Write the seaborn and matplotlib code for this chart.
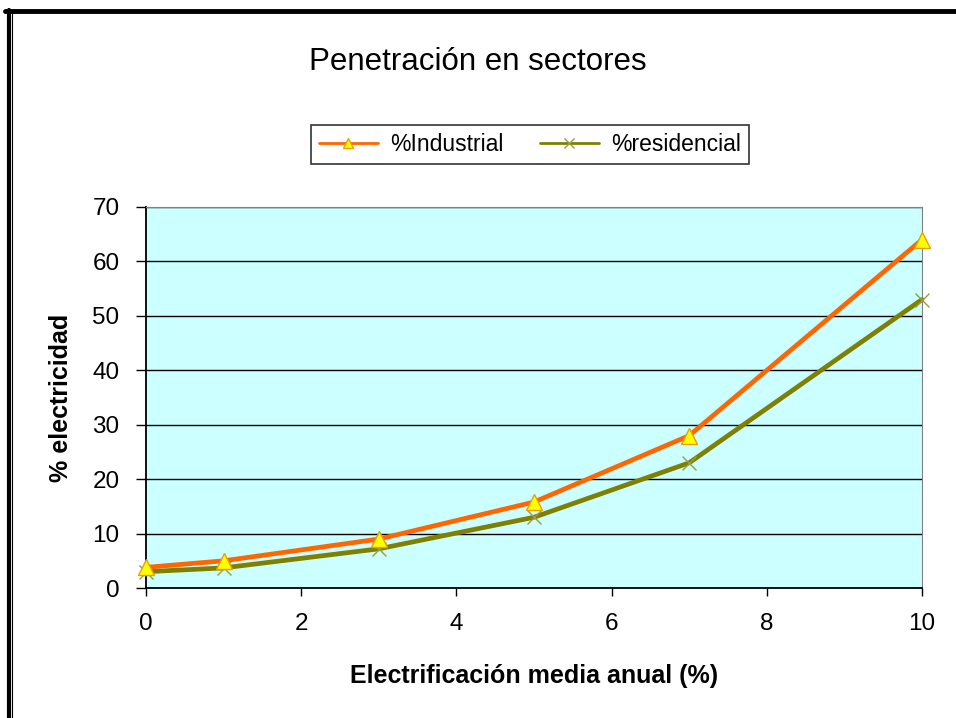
import matplotlib
matplotlib.use("Agg")
import matplotlib.pyplot as plt
from matplotlib.lines import Line2D
import pandas as pd
import seaborn as sns

# valores
electrificacion = [0, 1, 3, 5, 7, 10]
industrial = [3.8, 5.0, 9.0, 15.8, 28.0, 64.0]
residencial = [3.0, 3.7, 7.2, 13.0, 23.0, 53.0]
y_ticks = [0, 10, 20, 30, 40, 50, 60, 70]
x_ticks = [0, 2, 4, 6, 8, 10]

df = pd.DataFrame({"x": electrificacion, "ind": industrial, "res": residencial})

sns.set_style("white")
plt.rcParams['font.family'] = ['Liberation Sans', 'DejaVu Sans']
for k in ["text.color", "axes.labelcolor", "xtick.color", "ytick.color"]:
    plt.rcParams[k] = "black"

fig = plt.figure(figsize=(9.56, 7.18), dpi=100)
ax = fig.add_axes([0.1527, 0.181, 0.8117, 0.5307])
ax.set_facecolor("#CCFFFF")

sns.lineplot(data=df, x="x", y="ind", ax=ax, color="#FF6600", lw=3.4,
             marker="^", markersize=11, markerfacecolor="#FFFF00",
             markeredgecolor="#E8A000", markeredgewidth=1, label="%Industrial",
             clip_on=False, zorder=4)
sns.lineplot(data=df, x="x", y="res", ax=ax, color="#808000", lw=3.4,
             marker="x", markersize=10, markeredgecolor="#9C9C40",
             markeredgewidth=1, label="%residencial", clip_on=False, zorder=3)

ax.set_xlim(0, 10)
ax.set_ylim(0, 70)
ax.set_xticks(x_ticks)
ax.set_yticks(y_ticks)
ax.yaxis.grid(True, color="black", lw=1)
ax.set_axisbelow(True)
for s in ["top", "right"]:
    ax.spines[s].set_color("#808080")
for s in ["left", "bottom"]:
    ax.spines[s].set_color("black")
    ax.spines[s].set_linewidth(1.3)
ax.tick_params(axis="y", direction="out", length=7, width=1, pad=12, labelsize=17.5, left=True)
ax.tick_params(axis="x", direction="out", length=6, width=1, pad=12, labelsize=17.5, bottom=True)

ax.set_xlabel("Electrificación media anual (%)", fontsize=18, fontweight="bold", labelpad=21)
ax.set_ylabel("% electricidad", fontsize=18, fontweight="bold", labelpad=14)
fig.text(0.5, 0.913, "Penetración en sectores", ha="center", va="center", fontsize=22.5)

leg = ax.legend(loc="center", bbox_to_anchor=(0.554, 0.7994), bbox_transform=fig.transFigure,
                ncol=2, frameon=True, fancybox=False, fontsize=16.5, handlelength=2.6,
                handletextpad=0.5, columnspacing=1.6, borderpad=0.35, edgecolor="black",
                markerscale=0.65)
leg.get_frame().set_linewidth(1.2)
for h in leg.legend_handles:
    h.set_linewidth(2)

# marco exterior
fig.add_artist(Line2D([0.005, 1.0], [0.984, 0.984], color="black", lw=3.5))
fig.add_artist(Line2D([0.009, 0.009], [0.0, 0.986], color="black", lw=3))
fig.add_artist(Line2D([0.0125, 0.0125], [0.0, 0.982], color="black", lw=0.8))

fig.savefig("out.png", dpi=100)
